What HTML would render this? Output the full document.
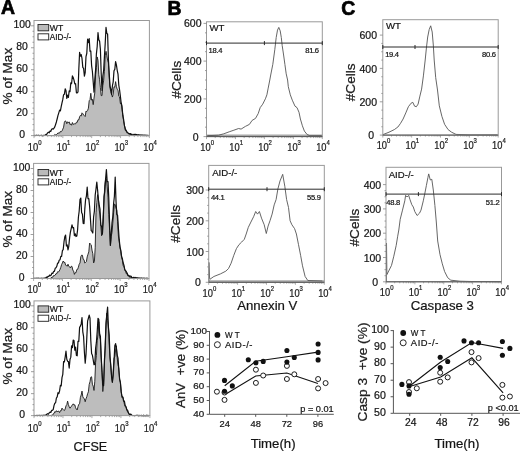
<!DOCTYPE html>
<html><head><meta charset="utf-8"><style>
html,body{margin:0;padding:0;background:#fff;}
svg{display:block;will-change:transform;}
text{font-family:"Liberation Sans", sans-serif;stroke:#151515;stroke-width:0.22px;}
</style></head><body>
<svg width="520" height="454" viewBox="0 0 520 454">
<rect width="520" height="454" fill="#fff"/>
<text x="0.9" y="14.2" font-size="19.4" text-anchor="start" font-weight="bold" fill="#000" style="stroke:#000;stroke-width:0.7px">A</text>
<text x="167.4" y="14.7" font-size="19.4" text-anchor="start" font-weight="bold" fill="#000" style="stroke:#000;stroke-width:0.7px">B</text>
<text x="341.2" y="14.7" font-size="19.4" text-anchor="start" font-weight="bold" fill="#000" style="stroke:#000;stroke-width:0.7px">C</text>
<polygon points="34,135.38 34.8,135.45 35.6,135.53 36.4,135.36 37.2,135.44 38,135.52 38.8,135.45 39.6,135.6 40.4,135.46 41.2,135.4 42,135.36 42.8,135.58 43.6,135.4 44.4,135.52 45.2,135.33 46,135.57 46.8,135.44 47.6,135.57 48.4,135.49 49.2,135.58 50,135.46 50.8,135.57 51.6,135.58 52.4,135.6 53.2,135.47 54,135.51 54.8,134.38 55.6,134.92 56.4,134.54 57.2,134.03 58,132.81 58.8,133.29 59.6,133.03 60.4,131.39 61.2,131.75 62,130.92 62.8,129.15 63.6,127.19 64.4,122.24 65.2,120.92 66,121.38 66.8,123.73 67.6,121.75 68.4,122.68 69.2,121.87 70,124.6 70.8,123.96 71.6,125.24 72.4,122.53 73.2,124.3 74,124.25 74.8,123.65 75.6,123.91 76.4,122.23 77.2,122.36 78,119.72 78.8,119.89 79.6,116.86 80.4,115.41 81.2,116.03 82,112.83 82.8,113.65 83.6,115.1 84.4,115.63 85.2,116.52 86,111.12 86.8,111.49 87.6,110.49 88.4,108.21 89.2,100.71 90,99.69 90.8,93.29 91.6,100.21 92.4,99.35 93.2,104.64 94,98.14 94.8,92.69 95.6,74.74 96.4,67.7 97.2,56.94 98,60.24 98.8,74.84 99.6,79.77 100.4,87.76 101.2,95.6 102,95.61 102.8,85.71 103.6,80.88 104.4,71.44 105.2,55.7 106,51.32 106.8,55.82 107.6,60.06 108.4,62.85 109.2,77.3 110,88.09 110.8,91.63 111.6,94.28 112.4,97.06 113.2,94.25 114,86.71 114.8,87.19 115.6,81.64 116.4,86.38 117.2,89.35 118,90.14 118.8,96.28 119.6,96.97 120.4,103.64 121.2,102.88 122,109.53 122.8,114.62 123.6,121.17 124.4,124.7 125.2,130.26 126,130.3 126.8,132.78 127.6,132.53 128.4,133.42 129.2,133.86 130,134.76 130.8,134.15 131.6,135.03 132.4,134.27 133.2,135.08 134,135.22 134.8,134.47 135.6,134.98 136.4,135.15 137.2,135.28 138,135.04 138.8,135.18 139.6,135.28 140.4,135.27 141.2,135.18 142,135.28 142.8,135.34 143.6,135.32 144.4,135.2 145.2,135.21 146,135.45 146.8,135.41 147.6,135.51 148.4,135.38 148.4,135.6 34,135.6" fill="#bdbdbd" stroke="none"/>
<polyline points="34,135.38 34.8,135.45 35.6,135.53 36.4,135.36 37.2,135.44 38,135.52 38.8,135.45 39.6,135.6 40.4,135.46 41.2,135.4 42,135.36 42.8,135.58 43.6,135.4 44.4,135.52 45.2,135.33 46,135.57 46.8,135.44 47.6,135.57 48.4,135.49 49.2,135.58 50,135.46 50.8,135.57 51.6,135.58 52.4,135.6 53.2,135.47 54,135.51 54.8,134.38 55.6,134.92 56.4,134.54 57.2,134.03 58,132.81 58.8,133.29 59.6,133.03 60.4,131.39 61.2,131.75 62,130.92 62.8,129.15 63.6,127.19 64.4,122.24 65.2,120.92 66,121.38 66.8,123.73 67.6,121.75 68.4,122.68 69.2,121.87 70,124.6 70.8,123.96 71.6,125.24 72.4,122.53 73.2,124.3 74,124.25 74.8,123.65 75.6,123.91 76.4,122.23 77.2,122.36 78,119.72 78.8,119.89 79.6,116.86 80.4,115.41 81.2,116.03 82,112.83 82.8,113.65 83.6,115.1 84.4,115.63 85.2,116.52 86,111.12 86.8,111.49 87.6,110.49 88.4,108.21 89.2,100.71 90,99.69 90.8,93.29 91.6,100.21 92.4,99.35 93.2,104.64 94,98.14 94.8,92.69 95.6,74.74 96.4,67.7 97.2,56.94 98,60.24 98.8,74.84 99.6,79.77 100.4,87.76 101.2,95.6 102,95.61 102.8,85.71 103.6,80.88 104.4,71.44 105.2,55.7 106,51.32 106.8,55.82 107.6,60.06 108.4,62.85 109.2,77.3 110,88.09 110.8,91.63 111.6,94.28 112.4,97.06 113.2,94.25 114,86.71 114.8,87.19 115.6,81.64 116.4,86.38 117.2,89.35 118,90.14 118.8,96.28 119.6,96.97 120.4,103.64 121.2,102.88 122,109.53 122.8,114.62 123.6,121.17 124.4,124.7 125.2,130.26 126,130.3 126.8,132.78 127.6,132.53 128.4,133.42 129.2,133.86 130,134.76 130.8,134.15 131.6,135.03 132.4,134.27 133.2,135.08 134,135.22 134.8,134.47 135.6,134.98 136.4,135.15 137.2,135.28 138,135.04 138.8,135.18 139.6,135.28 140.4,135.27 141.2,135.18 142,135.28 142.8,135.34 143.6,135.32 144.4,135.2 145.2,135.21 146,135.45 146.8,135.41 147.6,135.51 148.4,135.38" fill="none" stroke="#1a1a1a" stroke-width="0.9" stroke-linejoin="round"/>
<polyline points="34,135.41 34.8,135.6 35.6,135.47 36.4,135.41 37.2,135.5 38,135.43 38.8,135.4 39.6,135.53 40.4,135.5 41.2,135.44 42,135.6 42.8,135.47 43.6,135.55 44.4,135.28 45.2,135.16 46,134.3 46.8,134.33 47.6,132.88 48.4,132.17 49.2,132.77 50,131.09 50.8,131.41 51.6,129.24 52.4,128.73 53.2,129.17 54,128.18 54.8,126.91 55.6,124.46 56.4,121.96 57.2,118.77 58,115.44 58.8,112.82 59.6,110.07 60.4,110.91 61.2,106.71 62,102.88 62.8,99.38 63.6,94.66 64.4,94.15 65.2,88.79 66,90.79 66.8,98.45 67.6,95.08 68.4,97.44 69.2,90.84 70,91.64 70.8,82.74 71.6,83.54 72.4,75.91 73.2,77.44 74,80.14 74.8,83.91 75.6,83.71 76.4,92.81 77.2,93.01 78,91.9 78.8,69.82 79.6,52.42 80.4,56.26 81.2,54.59 82,58.48 82.8,67.39 83.6,68.37 84.4,76.24 85.2,72.52 86,56.56 86.8,53.24 87.6,39.08 88.4,42.56 89.2,38.6 90,51.3 90.8,51.05 91.6,65.61 92.4,71.48 93.2,82.01 94,92.25 94.8,79.64 95.6,69.73 96.4,53.81 97.2,46.47 98,32.59 98.8,39.82 99.6,41.12 100.4,49.35 101.2,73.6 102,90.38 102.8,76.31 103.6,70.95 104.4,57.15 105.2,43.81 106,27.44 106.8,33.37 107.6,34.04 108.4,59.23 109.2,72.74 110,86.11 110.8,89.15 111.6,94.38 112.4,86 113.2,81.86 114,70.77 114.8,69.37 115.6,61.61 116.4,64.87 117.2,70.26 118,74.05 118.8,85.23 119.6,90.17 120.4,96.39 121.2,103.22 122,105.97 122.8,115.43 123.6,119.28 124.4,125.57 125.2,128.18 126,130.48 126.8,131.56 127.6,132.38 128.4,133.56 129.2,133.6 130,133.8 130.8,133.68 131.6,134.9 132.4,135 133.2,135.24 134,134.26 134.8,135.01 135.6,134.33 136.4,134.49 137.2,135.16 138,134.76 138.8,134.78 139.6,135.21 140.4,135.18 141.2,135.14 142,135.25 142.8,135.11 143.6,135.31 144.4,135.25 145.2,135.37 146,135.3 146.8,135.36 147.6,135.31 148.4,135.6" fill="none" stroke="#111" stroke-width="1.2" stroke-linejoin="round"/>
<rect x="34" y="20.5" width="115.4" height="115.1" fill="none" stroke="#999" stroke-width="1"/>
<path d="M34 135.6v2.5M42.68 135.6v1.5M47.76 135.6v1.5M51.37 135.6v1.5M54.17 135.6v1.5M56.45 135.6v1.5M58.38 135.6v1.5M60.05 135.6v1.5M61.53 135.6v1.5M62.85 135.6v2.5M71.53 135.6v1.5M76.61 135.6v1.5M80.22 135.6v1.5M83.02 135.6v1.5M85.3 135.6v1.5M87.23 135.6v1.5M88.9 135.6v1.5M90.38 135.6v1.5M91.7 135.6v2.5M100.38 135.6v1.5M105.46 135.6v1.5M109.07 135.6v1.5M111.87 135.6v1.5M114.15 135.6v1.5M116.08 135.6v1.5M117.75 135.6v1.5M119.23 135.6v1.5M120.55 135.6v2.5M129.23 135.6v1.5M134.31 135.6v1.5M137.92 135.6v1.5M140.72 135.6v1.5M143 135.6v1.5M144.93 135.6v1.5M146.6 135.6v1.5M148.08 135.6v1.5M149.4 135.6v2.5" stroke="#999" stroke-width="0.8" fill="none"/>
<path d="M34 25.8h-3M34 47.76h-3M34 69.72h-3M34 91.68h-3M34 113.64h-3M34 135.6h-3M34 31.29h-1.5M34 36.78h-1.5M34 42.27h-1.5M34 53.25h-1.5M34 58.74h-1.5M34 64.23h-1.5M34 75.21h-1.5M34 80.7h-1.5M34 86.19h-1.5M34 97.17h-1.5M34 102.66h-1.5M34 108.15h-1.5M34 119.13h-1.5M34 124.62h-1.5M34 130.11h-1.5" stroke="#888" stroke-width="0.8" fill="none"/>
<text transform="translate(34.7 150.9) scale(0.88 1)" font-size="10.6" text-anchor="middle" fill="#222">10<tspan font-size="6.8" dy="-6.0">0</tspan></text>
<text transform="translate(63.55 150.9) scale(0.88 1)" font-size="10.6" text-anchor="middle" fill="#222">10<tspan font-size="6.8" dy="-6.0">1</tspan></text>
<text transform="translate(92.4 150.9) scale(0.88 1)" font-size="10.6" text-anchor="middle" fill="#222">10<tspan font-size="6.8" dy="-6.0">2</tspan></text>
<text transform="translate(121.25 150.9) scale(0.88 1)" font-size="10.6" text-anchor="middle" fill="#222">10<tspan font-size="6.8" dy="-6.0">3</tspan></text>
<text transform="translate(150.1 150.9) scale(0.88 1)" font-size="10.6" text-anchor="middle" fill="#222">10<tspan font-size="6.8" dy="-6.0">4</tspan></text>
<text x="22.1" y="28.4" font-size="10.4" text-anchor="middle" font-weight="normal" fill="#151515" >100</text>
<text x="22.1" y="50.36" font-size="10.4" text-anchor="middle" font-weight="normal" fill="#151515" >80</text>
<text x="22.1" y="72.32" font-size="10.4" text-anchor="middle" font-weight="normal" fill="#151515" >60</text>
<text x="22.1" y="94.28" font-size="10.4" text-anchor="middle" font-weight="normal" fill="#151515" >40</text>
<text x="22.1" y="116.24" font-size="10.4" text-anchor="middle" font-weight="normal" fill="#151515" >20</text>
<text x="22.1" y="138.2" font-size="10.4" text-anchor="middle" font-weight="normal" fill="#151515" >0</text>
<rect x="38.0" y="24.5" width="10.7" height="6.3" fill="#bababa" stroke="#2a2a2a" stroke-width="0.95"/>
<rect x="38.0" y="33.8" width="10.7" height="6.1" fill="#fff" stroke="#2a2a2a" stroke-width="0.95"/>
<text x="49.8" y="30.6" font-size="8.6" text-anchor="start" font-weight="normal" fill="#151515" >WT</text>
<text x="49.8" y="39.7" font-size="8.2" text-anchor="start" font-weight="normal" fill="#151515" >AID-/-</text>
<text x="0" y="0" font-size="13.6" text-anchor="middle" fill="#222" transform="translate(12.1 76.1) rotate(-90)">% of Max</text>
<polygon points="33.6,278.33 34.4,278.49 35.2,278.34 36,278.46 36.8,278.38 37.6,278.44 38.4,278.24 39.2,278.5 40,278.26 40.8,278.45 41.6,278.31 42.4,278.47 43.2,278.36 44,278.5 44.8,278.34 45.6,278.44 46.4,278.29 47.2,278.46 48,278.39 48.8,278.41 49.6,278.5 50.4,278.38 51.2,277.98 52,276.87 52.8,277.25 53.6,275.55 54.4,275.58 55.2,275.08 56,273.62 56.8,273.74 57.6,271.74 58.4,272.03 59.2,271.07 60,269.46 60.8,267.33 61.6,264.57 62.4,262.98 63.2,261.01 64,262.59 64.8,262.24 65.6,265.18 66.4,265.5 67.2,266.22 68,264.21 68.8,266.33 69.6,266.77 70.4,267.92 71.2,266.25 72,266.41 72.8,270.1 73.6,271.07 74.4,274.37 75.2,272.65 76,272.71 76.8,269.56 77.6,269.39 78.4,267.18 79.2,264.16 80,263.05 80.8,256.78 81.6,255.16 82.4,255.22 83.2,259.24 84,259.69 84.8,263.09 85.6,262.43 86.4,261.63 87.2,256.9 88,254.23 88.8,251.88 89.6,243.1 90.4,244.07 91.2,244.81 92,250.16 92.8,253.71 93.6,262.93 94.4,261.29 95.2,247.77 96,212.7 96.8,202.64 97.6,194.61 98.4,198.79 99.2,209.97 100,215.01 100.8,225.38 101.6,235.81 102.4,228.46 103.2,214.72 104,199.98 104.8,184.79 105.6,179.33 106.4,178.67 107.2,186.84 108,197.2 108.8,214.52 109.6,230.31 110.4,245.67 111.2,236.42 112,232.56 112.8,223.07 113.6,212.82 114.4,203.83 115.2,204.78 116,208.11 116.8,210.03 117.6,221.67 118.4,236 119.2,241.53 120,247.83 120.8,251.31 121.6,257.57 122.4,260.14 123.2,265.86 124,266.4 124.8,270.01 125.6,271.26 126.4,273.87 127.2,273.66 128,275.83 128.8,275.62 129.6,277.17 130.4,277.57 131.2,276.94 132,278.07 132.8,278.42 133.6,278.05 134.4,277.4 135.2,277.83 136,278.07 136.8,277.99 137.6,277.97 138.4,278.18 139.2,278.04 140,278.05 140.8,278.18 141.6,278.01 142.4,278.11 143.2,278.29 144,278.17 144.8,278.19 145.6,278.46 146.4,278.17 147.2,278.37 148,278.29 148,278.5 33.6,278.5" fill="#bdbdbd" stroke="none"/>
<polyline points="33.6,278.33 34.4,278.49 35.2,278.34 36,278.46 36.8,278.38 37.6,278.44 38.4,278.24 39.2,278.5 40,278.26 40.8,278.45 41.6,278.31 42.4,278.47 43.2,278.36 44,278.5 44.8,278.34 45.6,278.44 46.4,278.29 47.2,278.46 48,278.39 48.8,278.41 49.6,278.5 50.4,278.38 51.2,277.98 52,276.87 52.8,277.25 53.6,275.55 54.4,275.58 55.2,275.08 56,273.62 56.8,273.74 57.6,271.74 58.4,272.03 59.2,271.07 60,269.46 60.8,267.33 61.6,264.57 62.4,262.98 63.2,261.01 64,262.59 64.8,262.24 65.6,265.18 66.4,265.5 67.2,266.22 68,264.21 68.8,266.33 69.6,266.77 70.4,267.92 71.2,266.25 72,266.41 72.8,270.1 73.6,271.07 74.4,274.37 75.2,272.65 76,272.71 76.8,269.56 77.6,269.39 78.4,267.18 79.2,264.16 80,263.05 80.8,256.78 81.6,255.16 82.4,255.22 83.2,259.24 84,259.69 84.8,263.09 85.6,262.43 86.4,261.63 87.2,256.9 88,254.23 88.8,251.88 89.6,243.1 90.4,244.07 91.2,244.81 92,250.16 92.8,253.71 93.6,262.93 94.4,261.29 95.2,247.77 96,212.7 96.8,202.64 97.6,194.61 98.4,198.79 99.2,209.97 100,215.01 100.8,225.38 101.6,235.81 102.4,228.46 103.2,214.72 104,199.98 104.8,184.79 105.6,179.33 106.4,178.67 107.2,186.84 108,197.2 108.8,214.52 109.6,230.31 110.4,245.67 111.2,236.42 112,232.56 112.8,223.07 113.6,212.82 114.4,203.83 115.2,204.78 116,208.11 116.8,210.03 117.6,221.67 118.4,236 119.2,241.53 120,247.83 120.8,251.31 121.6,257.57 122.4,260.14 123.2,265.86 124,266.4 124.8,270.01 125.6,271.26 126.4,273.87 127.2,273.66 128,275.83 128.8,275.62 129.6,277.17 130.4,277.57 131.2,276.94 132,278.07 132.8,278.42 133.6,278.05 134.4,277.4 135.2,277.83 136,278.07 136.8,277.99 137.6,277.97 138.4,278.18 139.2,278.04 140,278.05 140.8,278.18 141.6,278.01 142.4,278.11 143.2,278.29 144,278.17 144.8,278.19 145.6,278.46 146.4,278.17 147.2,278.37 148,278.29" fill="none" stroke="#1a1a1a" stroke-width="0.9" stroke-linejoin="round"/>
<polyline points="33.6,278.3 34.4,278.42 35.2,278.4 36,278.48 36.8,278.22 37.6,278.27 38.4,278.31 39.2,278.5 40,278.23 40.8,278.49 41.6,278.31 42.4,278.46 43.2,278.34 44,278.43 44.8,278.05 45.6,278.19 46.4,277.05 47.2,277.35 48,276.44 48.8,276.44 49.6,275.11 50.4,275.69 51.2,274.96 52,273.11 52.8,273.46 53.6,271.46 54.4,271.43 55.2,268.35 56,267.83 56.8,266.33 57.6,263.1 58.4,262.98 59.2,260.2 60,259.82 60.8,256.34 61.6,256.39 62.4,250.73 63.2,249.65 64,241.95 64.8,236.72 65.6,235.13 66.4,245.84 67.2,244.9 68,249.98 68.8,246.03 69.6,237.88 70.4,232.11 71.2,228.63 72,224.88 72.8,227.93 73.6,227.64 74.4,235.57 75.2,233.76 76,236.53 76.8,236.09 77.6,229.73 78.4,217.26 79.2,210.97 80,199.47 80.8,198.1 81.6,212.41 82.4,214.2 83.2,223.52 84,223.68 84.8,209.08 85.6,199.43 86.4,196.23 87.2,187.11 88,198.72 88.8,198.63 89.6,206.28 90.4,218.41 91.2,230.59 92,231.37 92.8,233 93.6,217.13 94.4,211.19 95.2,195.01 96,188.98 96.8,182.01 97.6,190.16 98.4,199.47 99.2,205.23 100,209.08 100.8,225.31 101.6,226.2 102.4,234.26 103.2,222.15 104,196.55 104.8,191.63 105.6,178.77 106.4,169.61 107.2,181.75 108,181.64 108.8,198.44 109.6,223.42 110.4,245.21 111.2,234.44 112,222.82 112.8,216.76 113.6,203.59 114.4,196.21 115.2,177.07 116,200.94 116.8,214.46 117.6,215.38 118.4,228.17 119.2,239.44 120,246.77 120.8,250.38 121.6,256.53 122.4,258.82 123.2,263 124,265.42 124.8,269.75 125.6,270.63 126.4,271.88 127.2,273.24 128,275.68 128.8,275.34 129.6,276.66 130.4,276.01 131.2,276.34 132,277.95 132.8,277.78 133.6,277.3 134.4,278.26 135.2,277.42 136,277.94 136.8,277.89 137.6,278.18 138.4,278.05 139.2,278.38 140,278.3 140.8,278.42 141.6,278.34 142.4,278.5 143.2,278.41 144,278.41 144.8,278.48 145.6,278.37 146.4,278.5 147.2,278.34 148,278.5" fill="none" stroke="#111" stroke-width="1.2" stroke-linejoin="round"/>
<rect x="33.6" y="163.4" width="115.4" height="115.1" fill="none" stroke="#999" stroke-width="1"/>
<path d="M33.6 278.5v2.5M42.28 278.5v1.5M47.36 278.5v1.5M50.97 278.5v1.5M53.77 278.5v1.5M56.05 278.5v1.5M57.98 278.5v1.5M59.65 278.5v1.5M61.13 278.5v1.5M62.45 278.5v2.5M71.13 278.5v1.5M76.21 278.5v1.5M79.82 278.5v1.5M82.62 278.5v1.5M84.9 278.5v1.5M86.83 278.5v1.5M88.5 278.5v1.5M89.98 278.5v1.5M91.3 278.5v2.5M99.98 278.5v1.5M105.06 278.5v1.5M108.67 278.5v1.5M111.47 278.5v1.5M113.75 278.5v1.5M115.68 278.5v1.5M117.35 278.5v1.5M118.83 278.5v1.5M120.15 278.5v2.5M128.83 278.5v1.5M133.91 278.5v1.5M137.52 278.5v1.5M140.32 278.5v1.5M142.6 278.5v1.5M144.53 278.5v1.5M146.2 278.5v1.5M147.68 278.5v1.5M149 278.5v2.5" stroke="#999" stroke-width="0.8" fill="none"/>
<path d="M33.6 168.5h-3M33.6 190.5h-3M33.6 212.5h-3M33.6 234.5h-3M33.6 256.5h-3M33.6 278.5h-3M33.6 174h-1.5M33.6 179.5h-1.5M33.6 185h-1.5M33.6 196h-1.5M33.6 201.5h-1.5M33.6 207h-1.5M33.6 218h-1.5M33.6 223.5h-1.5M33.6 229h-1.5M33.6 240h-1.5M33.6 245.5h-1.5M33.6 251h-1.5M33.6 262h-1.5M33.6 267.5h-1.5M33.6 273h-1.5" stroke="#888" stroke-width="0.8" fill="none"/>
<text transform="translate(34.3 292.6) scale(0.88 1)" font-size="10.6" text-anchor="middle" fill="#222">10<tspan font-size="6.8" dy="-6.0">0</tspan></text>
<text transform="translate(63.15 292.6) scale(0.88 1)" font-size="10.6" text-anchor="middle" fill="#222">10<tspan font-size="6.8" dy="-6.0">1</tspan></text>
<text transform="translate(92 292.6) scale(0.88 1)" font-size="10.6" text-anchor="middle" fill="#222">10<tspan font-size="6.8" dy="-6.0">2</tspan></text>
<text transform="translate(120.85 292.6) scale(0.88 1)" font-size="10.6" text-anchor="middle" fill="#222">10<tspan font-size="6.8" dy="-6.0">3</tspan></text>
<text transform="translate(149.7 292.6) scale(0.88 1)" font-size="10.6" text-anchor="middle" fill="#222">10<tspan font-size="6.8" dy="-6.0">4</tspan></text>
<text x="21.7" y="171.1" font-size="10.4" text-anchor="middle" font-weight="normal" fill="#151515" >100</text>
<text x="21.7" y="193.1" font-size="10.4" text-anchor="middle" font-weight="normal" fill="#151515" >80</text>
<text x="21.7" y="215.1" font-size="10.4" text-anchor="middle" font-weight="normal" fill="#151515" >60</text>
<text x="21.7" y="237.1" font-size="10.4" text-anchor="middle" font-weight="normal" fill="#151515" >40</text>
<text x="21.7" y="259.1" font-size="10.4" text-anchor="middle" font-weight="normal" fill="#151515" >20</text>
<text x="21.7" y="281.1" font-size="10.4" text-anchor="middle" font-weight="normal" fill="#151515" >0</text>
<rect x="38.0" y="169.5" width="10.7" height="6.3" fill="#bababa" stroke="#2a2a2a" stroke-width="0.95"/>
<rect x="38.0" y="178.8" width="10.7" height="6.1" fill="#fff" stroke="#2a2a2a" stroke-width="0.95"/>
<text x="49.8" y="175.6" font-size="8.6" text-anchor="start" font-weight="normal" fill="#151515" >WT</text>
<text x="49.8" y="184.7" font-size="8.2" text-anchor="start" font-weight="normal" fill="#151515" >AID-/-</text>
<text x="0" y="0" font-size="13.6" text-anchor="middle" fill="#222" transform="translate(12.1 219.2) rotate(-90)">% of Max</text>
<polygon points="34,415.4 34.8,415.55 35.6,415.48 36.4,415.46 37.2,415.5 38,415.49 38.8,415.54 39.6,415.6 40.4,415.56 41.2,415.46 42,415.6 42.8,415.59 43.6,415.38 44.4,415.55 45.2,415.6 46,415.33 46.8,415.6 47.6,415.47 48.4,415.6 49.2,415.6 50,415.52 50.8,415.5 51.6,415.31 52.4,415.55 53.2,413.89 54,413.59 54.8,411.61 55.6,412.14 56.4,410.67 57.2,411.94 58,411.05 58.8,411.23 59.6,412.6 60.4,410.69 61.2,410.8 62,408.12 62.8,409.28 63.6,410.14 64.4,410.51 65.2,408.98 66,405.79 66.8,404.75 67.6,401.09 68.4,404.59 69.2,406.87 70,408.21 70.8,407.01 71.6,406.17 72.4,404.64 73.2,403.85 74,405.11 74.8,404.8 75.6,407.72 76.4,409.16 77.2,410.01 78,406.62 78.8,404.31 79.6,403.68 80.4,397.41 81.2,394.98 82,391.1 82.8,396.62 83.6,398.25 84.4,398.72 85.2,401.74 86,398.74 86.8,396.74 87.6,393.78 88.4,391.81 89.2,384.45 90,381.73 90.8,377.13 91.6,376.78 92.4,384.25 93.2,386.11 94,390.44 94.8,381.28 95.6,362.5 96.4,355.7 97.2,340.71 98,334.84 98.8,321.75 99.6,336.64 100.4,339.41 101.2,357.26 102,372.58 102.8,391.54 103.6,383.98 104.4,365.07 105.2,345.59 106,325.93 106.8,313.11 107.6,320.38 108.4,326.87 109.2,344.49 110,357.96 110.8,365.77 111.6,376.78 112.4,382.73 113.2,371.08 114,358.18 114.8,356.54 115.6,350.04 116.4,345.78 117.2,357.92 118,364.6 118.8,368.23 119.6,379.14 120.4,382.38 121.2,392.11 122,396.39 122.8,397.01 123.6,399.82 124.4,404.31 125.2,406.36 126,407.35 126.8,409.53 127.6,412.15 128.4,412.29 129.2,414.37 130,414.65 130.8,414.53 131.6,415.12 132.4,415.6 133.2,415.48 134,415.52 134.8,415.45 135.6,415.43 136.4,415.27 137.2,415.51 138,415.44 138.8,415.51 139.6,415.34 140.4,415.59 141.2,415.46 142,415.6 142.8,415.56 143.6,415.33 144.4,415.6 145.2,415.46 146,415.53 146.8,415.31 147.6,415.4 148.4,415.55 148.4,415.6 34,415.6" fill="#bdbdbd" stroke="none"/>
<polyline points="34,415.4 34.8,415.55 35.6,415.48 36.4,415.46 37.2,415.5 38,415.49 38.8,415.54 39.6,415.6 40.4,415.56 41.2,415.46 42,415.6 42.8,415.59 43.6,415.38 44.4,415.55 45.2,415.6 46,415.33 46.8,415.6 47.6,415.47 48.4,415.6 49.2,415.6 50,415.52 50.8,415.5 51.6,415.31 52.4,415.55 53.2,413.89 54,413.59 54.8,411.61 55.6,412.14 56.4,410.67 57.2,411.94 58,411.05 58.8,411.23 59.6,412.6 60.4,410.69 61.2,410.8 62,408.12 62.8,409.28 63.6,410.14 64.4,410.51 65.2,408.98 66,405.79 66.8,404.75 67.6,401.09 68.4,404.59 69.2,406.87 70,408.21 70.8,407.01 71.6,406.17 72.4,404.64 73.2,403.85 74,405.11 74.8,404.8 75.6,407.72 76.4,409.16 77.2,410.01 78,406.62 78.8,404.31 79.6,403.68 80.4,397.41 81.2,394.98 82,391.1 82.8,396.62 83.6,398.25 84.4,398.72 85.2,401.74 86,398.74 86.8,396.74 87.6,393.78 88.4,391.81 89.2,384.45 90,381.73 90.8,377.13 91.6,376.78 92.4,384.25 93.2,386.11 94,390.44 94.8,381.28 95.6,362.5 96.4,355.7 97.2,340.71 98,334.84 98.8,321.75 99.6,336.64 100.4,339.41 101.2,357.26 102,372.58 102.8,391.54 103.6,383.98 104.4,365.07 105.2,345.59 106,325.93 106.8,313.11 107.6,320.38 108.4,326.87 109.2,344.49 110,357.96 110.8,365.77 111.6,376.78 112.4,382.73 113.2,371.08 114,358.18 114.8,356.54 115.6,350.04 116.4,345.78 117.2,357.92 118,364.6 118.8,368.23 119.6,379.14 120.4,382.38 121.2,392.11 122,396.39 122.8,397.01 123.6,399.82 124.4,404.31 125.2,406.36 126,407.35 126.8,409.53 127.6,412.15 128.4,412.29 129.2,414.37 130,414.65 130.8,414.53 131.6,415.12 132.4,415.6 133.2,415.48 134,415.52 134.8,415.45 135.6,415.43 136.4,415.27 137.2,415.51 138,415.44 138.8,415.51 139.6,415.34 140.4,415.59 141.2,415.46 142,415.6 142.8,415.56 143.6,415.33 144.4,415.6 145.2,415.46 146,415.53 146.8,415.31 147.6,415.4 148.4,415.55" fill="none" stroke="#1a1a1a" stroke-width="0.9" stroke-linejoin="round"/>
<polyline points="34,415.41 34.8,415.58 35.6,415.51 36.4,415.47 37.2,415.6 38,415.38 38.8,415.53 39.6,415.39 40.4,415.57 41.2,415.38 42,415.52 42.8,415.41 43.6,415.36 44.4,415.28 45.2,415.06 46,415.08 46.8,414.2 47.6,413.64 48.4,414.23 49.2,412.83 50,412.11 50.8,412.42 51.6,410.41 52.4,410.31 53.2,409.59 54,405.61 54.8,403.23 55.6,402.74 56.4,398.01 57.2,396.92 58,392.73 58.8,393.59 59.6,390.94 60.4,385.29 61.2,385.91 62,377.57 62.8,374.28 63.6,361.53 64.4,361.95 65.2,356.96 66,351.19 66.8,359.28 67.6,361.2 68.4,361.64 69.2,368.04 70,359.51 70.8,357.13 71.6,345.75 72.4,347.72 73.2,340.14 74,340.46 74.8,350.27 75.6,347.07 76.4,355.44 77.2,355.77 78,341.4 78.8,341.49 79.6,327.37 80.4,326.17 81.2,323.94 82,317.62 82.8,331.84 83.6,336.66 84.4,352.27 85.2,363.16 86,354.47 86.8,337.86 87.6,321.16 88.4,318.24 89.2,315.1 90,318.11 90.8,340.5 91.6,353.58 92.4,355.21 93.2,359.97 94,364.68 94.8,364.36 95.6,348.34 96.4,342.43 97.2,331.8 98,318.23 98.8,319.44 99.6,333.47 100.4,336.4 101.2,356.66 102,370.99 102.8,384.77 103.6,385.68 104.4,360.44 105.2,347.1 106,323.06 106.8,314.63 107.6,307.13 108.4,327.08 109.2,334.72 110,356.51 110.8,365.58 111.6,376.85 112.4,381.9 113.2,375.32 114,361.78 114.8,345.83 115.6,343.66 116.4,348.69 117.2,355.04 118,358.11 118.8,369.44 119.6,379.06 120.4,382.52 121.2,391.41 122,397.21 122.8,396.91 123.6,401.15 124.4,401.2 125.2,405.59 126,406.69 126.8,409.74 127.6,410.28 128.4,412.74 129.2,414.16 130,414.6 130.8,414.14 131.6,415.21 132.4,415.39 133.2,415.52 134,415.54 134.8,415.52 135.6,415.52 136.4,415.51 137.2,415.45 138,415.41 138.8,415.57 139.6,415.6 140.4,415.5 141.2,415.41 142,415.6 142.8,415.54 143.6,415.38 144.4,415.58 145.2,415.6 146,415.6 146.8,415.42 147.6,415.54 148.4,415.47" fill="none" stroke="#111" stroke-width="1.2" stroke-linejoin="round"/>
<rect x="34" y="300.9" width="115.9" height="114.7" fill="none" stroke="#999" stroke-width="1"/>
<path d="M34 415.6v2.5M42.72 415.6v1.5M47.82 415.6v1.5M51.44 415.6v1.5M54.25 415.6v1.5M56.55 415.6v1.5M58.49 415.6v1.5M60.17 415.6v1.5M61.65 415.6v1.5M62.98 415.6v2.5M71.7 415.6v1.5M76.8 415.6v1.5M80.42 415.6v1.5M83.23 415.6v1.5M85.52 415.6v1.5M87.46 415.6v1.5M89.14 415.6v1.5M90.62 415.6v1.5M91.95 415.6v2.5M100.67 415.6v1.5M105.77 415.6v1.5M109.39 415.6v1.5M112.2 415.6v1.5M114.5 415.6v1.5M116.44 415.6v1.5M118.12 415.6v1.5M119.6 415.6v1.5M120.93 415.6v2.5M129.65 415.6v1.5M134.75 415.6v1.5M138.37 415.6v1.5M141.18 415.6v1.5M143.47 415.6v1.5M145.41 415.6v1.5M147.09 415.6v1.5M148.57 415.6v1.5M149.9 415.6v2.5" stroke="#999" stroke-width="0.8" fill="none"/>
<path d="M34 305.8h-3M34 327.76h-3M34 349.72h-3M34 371.68h-3M34 393.64h-3M34 415.6h-3M34 311.29h-1.5M34 316.78h-1.5M34 322.27h-1.5M34 333.25h-1.5M34 338.74h-1.5M34 344.23h-1.5M34 355.21h-1.5M34 360.7h-1.5M34 366.19h-1.5M34 377.17h-1.5M34 382.66h-1.5M34 388.15h-1.5M34 399.13h-1.5M34 404.62h-1.5M34 410.11h-1.5" stroke="#888" stroke-width="0.8" fill="none"/>
<text transform="translate(34.7 431.8) scale(0.88 1)" font-size="10.6" text-anchor="middle" fill="#222">10<tspan font-size="6.8" dy="-6.0">0</tspan></text>
<text transform="translate(63.68 431.8) scale(0.88 1)" font-size="10.6" text-anchor="middle" fill="#222">10<tspan font-size="6.8" dy="-6.0">1</tspan></text>
<text transform="translate(92.65 431.8) scale(0.88 1)" font-size="10.6" text-anchor="middle" fill="#222">10<tspan font-size="6.8" dy="-6.0">2</tspan></text>
<text transform="translate(121.63 431.8) scale(0.88 1)" font-size="10.6" text-anchor="middle" fill="#222">10<tspan font-size="6.8" dy="-6.0">3</tspan></text>
<text transform="translate(150.6 431.8) scale(0.88 1)" font-size="10.6" text-anchor="middle" fill="#222">10<tspan font-size="6.8" dy="-6.0">4</tspan></text>
<text x="22.1" y="308.4" font-size="10.4" text-anchor="middle" font-weight="normal" fill="#151515" >100</text>
<text x="22.1" y="330.36" font-size="10.4" text-anchor="middle" font-weight="normal" fill="#151515" >80</text>
<text x="22.1" y="352.32" font-size="10.4" text-anchor="middle" font-weight="normal" fill="#151515" >60</text>
<text x="22.1" y="374.28" font-size="10.4" text-anchor="middle" font-weight="normal" fill="#151515" >40</text>
<text x="22.1" y="396.24" font-size="10.4" text-anchor="middle" font-weight="normal" fill="#151515" >20</text>
<text x="22.1" y="418.2" font-size="10.4" text-anchor="middle" font-weight="normal" fill="#151515" >0</text>
<rect x="38.0" y="305.9" width="10.7" height="6.3" fill="#bababa" stroke="#2a2a2a" stroke-width="0.95"/>
<rect x="38.0" y="315.2" width="10.7" height="6.1" fill="#fff" stroke="#2a2a2a" stroke-width="0.95"/>
<text x="49.8" y="312" font-size="8.6" text-anchor="start" font-weight="normal" fill="#151515" >WT</text>
<text x="49.8" y="321.1" font-size="8.2" text-anchor="start" font-weight="normal" fill="#151515" >AID-/-</text>
<text x="0" y="0" font-size="13.6" text-anchor="middle" fill="#222" transform="translate(12.1 356.2) rotate(-90)">% of Max</text>
<text x="90.4" y="451" font-size="12.6" text-anchor="middle" font-weight="normal" fill="#151515" >CFSE</text>
<path d="M206.5 135.4H322.3" stroke="#a8a8a8" stroke-width="1.6" fill="none"/>
<polyline points="207.3,135.6 212,135.5 218.5,135.2 223.8,133.8 229.2,131.8 233.9,130.2 238.6,128.5 241.1,129.1 245.4,126.4 249.4,124.4 252.1,120.4 255.5,118.4 258.2,113.6 260.2,107.6 262.7,104.2 265.4,98.8 266.9,94.8 268.2,88.1 269.6,81 270.9,74 272.8,64.4 274.8,49.6 276.2,37.5 277.5,30.1 278.8,27.4 280.2,30.8 281.3,37.5 282.2,45.6 283.6,55 284.9,64.4 286.2,73.8 287.6,80 288.3,86.7 290.3,94.8 292.3,100.2 295,106.2 297,107.6 299,112.3 300.4,119 302.4,125.8 304.4,131.1 307.1,134.5 309.8,135.7 321.9,135.7" fill="none" stroke="#555" stroke-width="0.9" stroke-linejoin="round"/>
<rect x="206.5" y="21.8" width="115.8" height="114.8" fill="none" stroke="#999" stroke-width="1"/>
<path d="M206.5 136.6v2.5M215.21 136.6v1.5M220.31 136.6v1.5M223.93 136.6v1.5M226.74 136.6v1.5M229.03 136.6v1.5M230.97 136.6v1.5M232.64 136.6v1.5M234.13 136.6v1.5M235.45 136.6v2.5M244.16 136.6v1.5M249.26 136.6v1.5M252.88 136.6v1.5M255.69 136.6v1.5M257.98 136.6v1.5M259.92 136.6v1.5M261.59 136.6v1.5M263.08 136.6v1.5M264.4 136.6v2.5M273.11 136.6v1.5M278.21 136.6v1.5M281.83 136.6v1.5M284.64 136.6v1.5M286.93 136.6v1.5M288.87 136.6v1.5M290.54 136.6v1.5M292.03 136.6v1.5M293.35 136.6v2.5M302.06 136.6v1.5M307.16 136.6v1.5M310.78 136.6v1.5M313.59 136.6v1.5M315.88 136.6v1.5M317.82 136.6v1.5M319.49 136.6v1.5M320.98 136.6v1.5M322.3 136.6v2.5" stroke="#999" stroke-width="0.8" fill="none"/>
<path d="M206.5 23.4h-3M206.5 61.1h-3M206.5 98.9h-3M206.5 136.6h-3M206.5 32.83h-1.5M206.5 42.25h-1.5M206.5 51.67h-1.5M206.5 70.55h-1.5M206.5 80h-1.5M206.5 89.45h-1.5M206.5 108.33h-1.5M206.5 117.75h-1.5M206.5 127.17h-1.5" stroke="#888" stroke-width="0.8" fill="none"/>
<text transform="translate(207.2 150.8) scale(0.88 1)" font-size="10.6" text-anchor="middle" fill="#222">10<tspan font-size="6.8" dy="-6.0">0</tspan></text>
<text transform="translate(236.15 150.8) scale(0.88 1)" font-size="10.6" text-anchor="middle" fill="#222">10<tspan font-size="6.8" dy="-6.0">1</tspan></text>
<text transform="translate(265.1 150.8) scale(0.88 1)" font-size="10.6" text-anchor="middle" fill="#222">10<tspan font-size="6.8" dy="-6.0">2</tspan></text>
<text transform="translate(294.05 150.8) scale(0.88 1)" font-size="10.6" text-anchor="middle" fill="#222">10<tspan font-size="6.8" dy="-6.0">3</tspan></text>
<text transform="translate(323 150.8) scale(0.88 1)" font-size="10.6" text-anchor="middle" fill="#222">10<tspan font-size="6.8" dy="-6.0">4</tspan></text>
<text x="201.5" y="27.49" font-size="10.5" text-anchor="end" font-weight="normal" fill="#151515" >600</text>
<text x="201.5" y="65.2" font-size="10.5" text-anchor="end" font-weight="normal" fill="#151515" >400</text>
<text x="201.5" y="103" font-size="10.5" text-anchor="end" font-weight="normal" fill="#151515" >200</text>
<text x="198.5" y="140.69" font-size="10.5" text-anchor="end" font-weight="normal" fill="#151515" >0</text>
<path d="M206.5 136.6H322.3" stroke="#555" stroke-width="1" fill="none"/>
<path d="M206.5 43.1H322.3 M206.5 41.1v4 M264.4 41.1v4 M322.3 41.1v4" stroke="#2a2a2a" stroke-width="1" fill="none"/>
<text x="209.4" y="31.2" font-size="9.6" text-anchor="start" font-weight="normal" fill="#151515" >WT</text>
<text x="208.6" y="53.2" font-size="7.6" text-anchor="start" font-weight="normal" fill="#151515" letter-spacing="-0.3">18.4</text>
<text x="318.8" y="53.2" font-size="7.6" text-anchor="end" font-weight="normal" fill="#151515" letter-spacing="-0.3">81.6</text>
<text x="0" y="0" font-size="13.6" text-anchor="middle" fill="#222" transform="translate(180.6 79.7) rotate(-90)">#Cells</text>
<path d="M208.7 281.1H324.3" stroke="#a8a8a8" stroke-width="1.6" fill="none"/>
<polyline points="208.9,282.51 208.9,262.42 209.6,278.49 210,279.19 213.9,276.48 220.5,273.87 225.8,271.16 228.5,268.55 231.1,263.22 233.8,255.29 236.4,248.66 239,244.64 241.7,242.03 244.3,239.32 246.2,234 248.3,227.37 250.9,222.05 253.6,216.72 255.7,211.5 257.5,214.11 259.4,211.5 261.5,218.13 264.2,224.76 266.3,233.5 268.1,226.06 270,220.74 272.1,214.11 274.2,204.87 276.1,199.55 277.9,188.9 280,180.97 282.7,174.34 284.8,186.19 286.6,199.55 288.5,207.48 290.1,220.74 291.9,224.76 294.6,228.67 296.4,234 298.5,244.64 300.6,255.29 302.5,265.83 305.1,276.48 307.8,280.5 322.3,281" fill="none" stroke="#555" stroke-width="0.9" stroke-linejoin="round"/>
<rect x="208.7" y="165.4" width="115.6" height="116.9" fill="none" stroke="#999" stroke-width="1"/>
<path d="M208.7 282.3v2.5M217.4 282.3v1.5M222.49 282.3v1.5M226.1 282.3v1.5M228.9 282.3v1.5M231.19 282.3v1.5M233.12 282.3v1.5M234.8 282.3v1.5M236.28 282.3v1.5M237.6 282.3v2.5M246.3 282.3v1.5M251.39 282.3v1.5M255 282.3v1.5M257.8 282.3v1.5M260.09 282.3v1.5M262.02 282.3v1.5M263.7 282.3v1.5M265.18 282.3v1.5M266.5 282.3v2.5M275.2 282.3v1.5M280.29 282.3v1.5M283.9 282.3v1.5M286.7 282.3v1.5M288.99 282.3v1.5M290.92 282.3v1.5M292.6 282.3v1.5M294.08 282.3v1.5M295.4 282.3v2.5M304.1 282.3v1.5M309.19 282.3v1.5M312.8 282.3v1.5M315.6 282.3v1.5M317.89 282.3v1.5M319.82 282.3v1.5M321.5 282.3v1.5M322.98 282.3v1.5M324.3 282.3v2.5" stroke="#999" stroke-width="0.8" fill="none"/>
<path d="M208.7 190h-3M208.7 220.8h-3M208.7 251.5h-3M208.7 282.3h-3M208.7 197.7h-1.5M208.7 205.4h-1.5M208.7 213.1h-1.5M208.7 228.48h-1.5M208.7 236.15h-1.5M208.7 243.82h-1.5M208.7 259.2h-1.5M208.7 266.9h-1.5M208.7 274.6h-1.5" stroke="#888" stroke-width="0.8" fill="none"/>
<text transform="translate(209.4 297) scale(0.88 1)" font-size="10.6" text-anchor="middle" fill="#222">10<tspan font-size="6.8" dy="-6.0">0</tspan></text>
<text transform="translate(238.3 297) scale(0.88 1)" font-size="10.6" text-anchor="middle" fill="#222">10<tspan font-size="6.8" dy="-6.0">1</tspan></text>
<text transform="translate(267.2 297) scale(0.88 1)" font-size="10.6" text-anchor="middle" fill="#222">10<tspan font-size="6.8" dy="-6.0">2</tspan></text>
<text transform="translate(296.1 297) scale(0.88 1)" font-size="10.6" text-anchor="middle" fill="#222">10<tspan font-size="6.8" dy="-6.0">3</tspan></text>
<text transform="translate(325 297) scale(0.88 1)" font-size="10.6" text-anchor="middle" fill="#222">10<tspan font-size="6.8" dy="-6.0">4</tspan></text>
<text x="203.8" y="194.09" font-size="10.5" text-anchor="end" font-weight="normal" fill="#151515" >300</text>
<text x="203.8" y="224.9" font-size="10.5" text-anchor="end" font-weight="normal" fill="#151515" >200</text>
<text x="203.8" y="255.59" font-size="10.5" text-anchor="end" font-weight="normal" fill="#151515" >100</text>
<text x="200.8" y="286.4" font-size="10.5" text-anchor="end" font-weight="normal" fill="#151515" >0</text>
<path d="M208.7 282.3H324.3" stroke="#555" stroke-width="1" fill="none"/>
<path d="M208.7 189.2H324.3 M208.7 187.2v4 M267 187.2v4 M324.3 187.2v4" stroke="#2a2a2a" stroke-width="1" fill="none"/>
<text x="212.2" y="176" font-size="9.6" text-anchor="start" font-weight="normal" fill="#151515" >AID-/-</text>
<text x="210.9" y="199.7" font-size="7.6" text-anchor="start" font-weight="normal" fill="#151515" letter-spacing="-0.3">44.1</text>
<text x="320.6" y="199.7" font-size="7.6" text-anchor="end" font-weight="normal" fill="#151515" letter-spacing="-0.3">55.9</text>
<text x="0" y="0" font-size="13.6" text-anchor="middle" fill="#222" transform="translate(180.4 223.8) rotate(-90)">#Cells</text>
<text x="267.3" y="309.6" font-size="13.2" text-anchor="middle" font-weight="normal" fill="#151515" >Annexin V</text>
<polyline points="383,134.6 386,133.4 389,132.2 394.3,129.6 397.9,127 400.5,123.4 403.1,119 405.8,112.9 408.4,106.7 411.1,103.2 412.8,102.3 414.6,106.2 416.4,106.7 418.1,104.1 419.9,96.1 421.6,89.1 423.4,75.9 425.2,60 426.4,48 427.7,37 429.2,29.5 430.7,25.8 432.2,32 433.3,45 434.2,60 435.7,77.6 437.5,90 439.3,105.8 441.9,116.4 444.6,124.3 448.1,129.6 451.6,132.2 456,134.4 470,134.9 497.5,134.9" fill="none" stroke="#555" stroke-width="0.9" stroke-linejoin="round"/>
<rect x="382.8" y="19.7" width="115.4" height="115.4" fill="none" stroke="#999" stroke-width="1"/>
<path d="M382.8 135.1v2.5M391.48 135.1v1.5M396.56 135.1v1.5M400.17 135.1v1.5M402.97 135.1v1.5M405.25 135.1v1.5M407.18 135.1v1.5M408.85 135.1v1.5M410.33 135.1v1.5M411.65 135.1v2.5M420.33 135.1v1.5M425.41 135.1v1.5M429.02 135.1v1.5M431.82 135.1v1.5M434.1 135.1v1.5M436.03 135.1v1.5M437.7 135.1v1.5M439.18 135.1v1.5M440.5 135.1v2.5M449.18 135.1v1.5M454.26 135.1v1.5M457.87 135.1v1.5M460.67 135.1v1.5M462.95 135.1v1.5M464.88 135.1v1.5M466.55 135.1v1.5M468.03 135.1v1.5M469.35 135.1v2.5M478.03 135.1v1.5M483.11 135.1v1.5M486.72 135.1v1.5M489.52 135.1v1.5M491.8 135.1v1.5M493.73 135.1v1.5M495.4 135.1v1.5M496.88 135.1v1.5M498.2 135.1v2.5" stroke="#999" stroke-width="0.8" fill="none"/>
<path d="M382.8 35.1h-3M382.8 68.4h-3M382.8 101.8h-3M382.8 135.1h-3M382.8 43.43h-1.5M382.8 51.75h-1.5M382.8 60.08h-1.5M382.8 76.75h-1.5M382.8 85.1h-1.5M382.8 93.45h-1.5M382.8 110.12h-1.5M382.8 118.45h-1.5M382.8 126.77h-1.5" stroke="#888" stroke-width="0.8" fill="none"/>
<text transform="translate(383.5 148.9) scale(0.88 1)" font-size="10.6" text-anchor="middle" fill="#222">10<tspan font-size="6.8" dy="-6.0">0</tspan></text>
<text transform="translate(412.35 148.9) scale(0.88 1)" font-size="10.6" text-anchor="middle" fill="#222">10<tspan font-size="6.8" dy="-6.0">1</tspan></text>
<text transform="translate(441.2 148.9) scale(0.88 1)" font-size="10.6" text-anchor="middle" fill="#222">10<tspan font-size="6.8" dy="-6.0">2</tspan></text>
<text transform="translate(470.05 148.9) scale(0.88 1)" font-size="10.6" text-anchor="middle" fill="#222">10<tspan font-size="6.8" dy="-6.0">3</tspan></text>
<text transform="translate(498.9 148.9) scale(0.88 1)" font-size="10.6" text-anchor="middle" fill="#222">10<tspan font-size="6.8" dy="-6.0">4</tspan></text>
<text x="377" y="39.2" font-size="10.5" text-anchor="end" font-weight="normal" fill="#151515" >600</text>
<text x="377" y="72.5" font-size="10.5" text-anchor="end" font-weight="normal" fill="#151515" >400</text>
<text x="377" y="105.89" font-size="10.5" text-anchor="end" font-weight="normal" fill="#151515" >200</text>
<text x="374" y="139.19" font-size="10.5" text-anchor="end" font-weight="normal" fill="#151515" >0</text>
<path d="M382.8 135.1H498.2" stroke="#555" stroke-width="1" fill="none"/>
<path d="M382.8 47H498.2 M382.8 45v4 M415 45v4 M498.2 45v4" stroke="#2a2a2a" stroke-width="1" fill="none"/>
<text x="385.9" y="29.3" font-size="9.6" text-anchor="start" font-weight="normal" fill="#151515" >WT</text>
<text x="385.2" y="56.9" font-size="7.6" text-anchor="start" font-weight="normal" fill="#151515" letter-spacing="-0.3">19.4</text>
<text x="495.7" y="56.9" font-size="7.6" text-anchor="end" font-weight="normal" fill="#151515" letter-spacing="-0.3">80.6</text>
<text x="0" y="0" font-size="13.6" text-anchor="middle" fill="#222" transform="translate(355.2 82.3) rotate(-90)">#Cells</text>
<polyline points="386.5,281.3 386.5,243 386.9,274.6 389.2,270 391.5,265.4 393.8,256.2 396.2,245.4 397.7,236.2 398.8,230 400.2,219.3 402.5,210.1 404.8,200.8 405.6,195.4 407.1,197 408.7,195.4 409.9,199.3 411.8,204.7 413.3,207 414.8,211.6 417.1,215.5 419.5,213.2 421,210.1 423.3,200.8 424.9,193.1 426.4,185.4 427.9,177.7 428.7,173.9 430.3,180 431.8,179.3 433.3,190 434.9,205.5 436.3,222 437.7,241 440,254.6 442.3,263.8 444.6,271.5 447.7,277.7 450.8,280.2 460,281.2 475,281.6 501,281.6" fill="none" stroke="#555" stroke-width="0.9" stroke-linejoin="round"/>
<rect x="386" y="167.3" width="115.5" height="114.5" fill="none" stroke="#999" stroke-width="1"/>
<path d="M386 281.8v2.5M394.69 281.8v1.5M399.78 281.8v1.5M403.38 281.8v1.5M406.18 281.8v1.5M408.47 281.8v1.5M410.4 281.8v1.5M412.08 281.8v1.5M413.55 281.8v1.5M414.88 281.8v2.5M423.57 281.8v1.5M428.65 281.8v1.5M432.26 281.8v1.5M435.06 281.8v1.5M437.34 281.8v1.5M439.28 281.8v1.5M440.95 281.8v1.5M442.43 281.8v1.5M443.75 281.8v2.5M452.44 281.8v1.5M457.53 281.8v1.5M461.13 281.8v1.5M463.93 281.8v1.5M466.22 281.8v1.5M468.15 281.8v1.5M469.83 281.8v1.5M471.3 281.8v1.5M472.62 281.8v2.5M481.32 281.8v1.5M486.4 281.8v1.5M490.01 281.8v1.5M492.81 281.8v1.5M495.09 281.8v1.5M497.03 281.8v1.5M498.7 281.8v1.5M500.18 281.8v1.5M501.5 281.8v2.5" stroke="#999" stroke-width="0.8" fill="none"/>
<path d="M386 184.6h-3M386 208.9h-3M386 233.2h-3M386 257.5h-3M386 281.8h-3M386 190.68h-1.5M386 196.75h-1.5M386 202.82h-1.5M386 214.97h-1.5M386 221.05h-1.5M386 227.12h-1.5M386 239.27h-1.5M386 245.35h-1.5M386 251.43h-1.5M386 263.57h-1.5M386 269.65h-1.5M386 275.73h-1.5" stroke="#888" stroke-width="0.8" fill="none"/>
<text transform="translate(386.7 296) scale(0.88 1)" font-size="10.6" text-anchor="middle" fill="#222">10<tspan font-size="6.8" dy="-6.0">0</tspan></text>
<text transform="translate(415.57 296) scale(0.88 1)" font-size="10.6" text-anchor="middle" fill="#222">10<tspan font-size="6.8" dy="-6.0">1</tspan></text>
<text transform="translate(444.45 296) scale(0.88 1)" font-size="10.6" text-anchor="middle" fill="#222">10<tspan font-size="6.8" dy="-6.0">2</tspan></text>
<text transform="translate(473.32 296) scale(0.88 1)" font-size="10.6" text-anchor="middle" fill="#222">10<tspan font-size="6.8" dy="-6.0">3</tspan></text>
<text transform="translate(502.2 296) scale(0.88 1)" font-size="10.6" text-anchor="middle" fill="#222">10<tspan font-size="6.8" dy="-6.0">4</tspan></text>
<text x="381.2" y="188.69" font-size="10.5" text-anchor="end" font-weight="normal" fill="#151515" >400</text>
<text x="381.2" y="213" font-size="10.5" text-anchor="end" font-weight="normal" fill="#151515" >300</text>
<text x="381.2" y="237.29" font-size="10.5" text-anchor="end" font-weight="normal" fill="#151515" >200</text>
<text x="381.2" y="261.6" font-size="10.5" text-anchor="end" font-weight="normal" fill="#151515" >100</text>
<text x="378.2" y="285.9" font-size="10.5" text-anchor="end" font-weight="normal" fill="#151515" >0</text>
<path d="M386 281.8H501.5" stroke="#555" stroke-width="1" fill="none"/>
<path d="M386 194.1H501.5 M386 192.1v4 M418.4 192.1v4 M501.5 192.1v4" stroke="#2a2a2a" stroke-width="1" fill="none"/>
<text x="388.7" y="178.3" font-size="9.6" text-anchor="start" font-weight="normal" fill="#151515" >AID-/-</text>
<text x="386.3" y="204.7" font-size="7.6" text-anchor="start" font-weight="normal" fill="#151515" letter-spacing="-0.3">48.8</text>
<text x="499.4" y="204.7" font-size="7.6" text-anchor="end" font-weight="normal" fill="#151515" letter-spacing="-0.3">51.2</text>
<text x="0" y="0" font-size="13.6" text-anchor="middle" fill="#222" transform="translate(359.2 227.6) rotate(-90)">#Cells</text>
<text x="442.3" y="310.4" font-size="13.2" text-anchor="middle" font-weight="normal" fill="#151515" >Caspase 3</text>
<path d="M209.5 331V414.3H333.8" stroke="#555" stroke-width="1" fill="none"/>
<path d="M209.5 331.5h-2.8M209.5 345.3h-2.8M209.5 359.1h-2.8M209.5 372.9h-2.8M209.5 386.7h-2.8M209.5 400.5h-2.8M209.5 414.3h-2.8M224.7 414.3v2.5M255.7 414.3v2.5M286.8 414.3v2.5M317.9 414.3v2.5" stroke="#555" stroke-width="1" fill="none"/>
<text x="198.7" y="333.9" font-size="9.8" text-anchor="middle" font-weight="normal" fill="#151515" >100</text>
<text x="198.7" y="347.7" font-size="9.8" text-anchor="middle" font-weight="normal" fill="#151515" >90</text>
<text x="198.7" y="361.5" font-size="9.8" text-anchor="middle" font-weight="normal" fill="#151515" >80</text>
<text x="198.7" y="375.3" font-size="9.8" text-anchor="middle" font-weight="normal" fill="#151515" >70</text>
<text x="198.7" y="389.1" font-size="9.8" text-anchor="middle" font-weight="normal" fill="#151515" >60</text>
<text x="198.7" y="402.9" font-size="9.8" text-anchor="middle" font-weight="normal" fill="#151515" >50</text>
<text x="198.7" y="416.7" font-size="9.8" text-anchor="middle" font-weight="normal" fill="#151515" >40</text>
<text x="224.7" y="426.6" font-size="9.3" text-anchor="middle" font-weight="normal" fill="#151515" >24</text>
<text x="255.7" y="426.6" font-size="9.3" text-anchor="middle" font-weight="normal" fill="#151515" >48</text>
<text x="286.8" y="426.6" font-size="9.3" text-anchor="middle" font-weight="normal" fill="#151515" >72</text>
<text x="317.9" y="426.6" font-size="9.3" text-anchor="middle" font-weight="normal" fill="#151515" >96</text>
<text x="273.1" y="447.6" font-size="13.2" text-anchor="middle" font-weight="normal" fill="#151515" >Time(h)</text>
<polyline points="224.7,385.8 255.7,361.3 286.8,356.7 317.9,352.1" fill="none" stroke="#111" stroke-width="1.1"/>
<polyline points="224.7,394.7 255.7,376 286.8,373 317.9,383.5" fill="none" stroke="#111" stroke-width="1.1"/>
<circle cx="216.9" cy="391.7" r="2.5" fill="#fff" stroke="#111" stroke-width="0.95"/>
<circle cx="224.5" cy="392.5" r="2.5" fill="#fff" stroke="#111" stroke-width="0.95"/>
<circle cx="224.5" cy="399.9" r="2.5" fill="#fff" stroke="#111" stroke-width="0.95"/>
<circle cx="255.9" cy="369.7" r="2.5" fill="#fff" stroke="#111" stroke-width="0.95"/>
<circle cx="255.9" cy="382.9" r="2.5" fill="#fff" stroke="#111" stroke-width="0.95"/>
<circle cx="263.2" cy="375.5" r="2.5" fill="#fff" stroke="#111" stroke-width="0.95"/>
<circle cx="286.9" cy="365.9" r="2.5" fill="#fff" stroke="#111" stroke-width="0.95"/>
<circle cx="286.9" cy="379" r="2.5" fill="#fff" stroke="#111" stroke-width="0.95"/>
<circle cx="294.3" cy="374.3" r="2.5" fill="#fff" stroke="#111" stroke-width="0.95"/>
<circle cx="318.1" cy="379" r="2.5" fill="#fff" stroke="#111" stroke-width="0.95"/>
<circle cx="318.1" cy="388.4" r="2.5" fill="#fff" stroke="#111" stroke-width="0.95"/>
<circle cx="325.6" cy="383.1" r="2.5" fill="#fff" stroke="#111" stroke-width="0.95"/>
<circle cx="224.5" cy="380.4" r="2.55" fill="#111"/>
<circle cx="232.3" cy="385.9" r="2.55" fill="#111"/>
<circle cx="224.5" cy="391.2" r="2.55" fill="#111"/>
<circle cx="248.3" cy="359.8" r="2.55" fill="#111"/>
<circle cx="255.9" cy="362.8" r="2.55" fill="#111"/>
<circle cx="263.2" cy="361.4" r="2.55" fill="#111"/>
<circle cx="286.9" cy="350.5" r="2.55" fill="#111"/>
<circle cx="286.9" cy="362.1" r="2.55" fill="#111"/>
<circle cx="294.3" cy="357.5" r="2.55" fill="#111"/>
<circle cx="318.1" cy="344" r="2.55" fill="#111"/>
<circle cx="318.1" cy="352.4" r="2.55" fill="#111"/>
<circle cx="318.1" cy="359.9" r="2.55" fill="#111"/>
<text x="333.7" y="411.6" font-size="9.2" text-anchor="end" font-weight="normal" fill="#151515" >p = 0.01</text>
<circle cx="217.4" cy="334.9" r="2.9" fill="#111"/>
<circle cx="217.4" cy="344.7" r="3.0" fill="#fff" stroke="#111" stroke-width="0.9"/>
<text x="225" y="338.1" font-size="9.2" text-anchor="start" font-weight="normal" fill="#151515" textLength="14.6" lengthAdjust="spacingAndGlyphs">W T</text>
<text x="225" y="347.5" font-size="9.4" text-anchor="start" font-weight="normal" fill="#151515" letter-spacing="0.6">AID-/-</text>
<text x="0" y="0" font-size="13.4" text-anchor="middle" fill="#222" transform="translate(184.8 368.7) rotate(-90)" textLength="78.5" lengthAdjust="spacingAndGlyphs">AnV&#160;&#160;+ve (%)</text>
<path d="M393.4 330.1V413.3H520" stroke="#555" stroke-width="1" fill="none"/>
<path d="M393.4 330.6h-2.8M393.4 347.14h-2.8M393.4 363.68h-2.8M393.4 380.22h-2.8M393.4 396.76h-2.8M393.4 413.3h-2.8M409.7 413.3v2.5M440.7 413.3v2.5M471.9 413.3v2.5M503.1 413.3v2.5" stroke="#555" stroke-width="1" fill="none"/>
<text x="380" y="333.2" font-size="10.6" text-anchor="middle" font-weight="normal" fill="#151515" >100</text>
<text x="380" y="349.74" font-size="10.6" text-anchor="middle" font-weight="normal" fill="#151515" >90</text>
<text x="380" y="366.28" font-size="10.6" text-anchor="middle" font-weight="normal" fill="#151515" >80</text>
<text x="380" y="382.82" font-size="10.6" text-anchor="middle" font-weight="normal" fill="#151515" >70</text>
<text x="380" y="399.36" font-size="10.6" text-anchor="middle" font-weight="normal" fill="#151515" >60</text>
<text x="380" y="415.9" font-size="10.6" text-anchor="middle" font-weight="normal" fill="#151515" >50</text>
<text x="410.7" y="425.8" font-size="10.3" text-anchor="middle" font-weight="normal" fill="#151515" >24</text>
<text x="441.7" y="425.8" font-size="10.3" text-anchor="middle" font-weight="normal" fill="#151515" >48</text>
<text x="472.9" y="425.8" font-size="10.3" text-anchor="middle" font-weight="normal" fill="#151515" >72</text>
<text x="504.1" y="425.8" font-size="10.3" text-anchor="middle" font-weight="normal" fill="#151515" >96</text>
<text x="457" y="448" font-size="13.2" text-anchor="middle" font-weight="normal" fill="#151515" >Time(h)</text>
<polyline points="409.7,386 440.7,362 471.9,342.5 503.1,348.4" fill="none" stroke="#111" stroke-width="1.1"/>
<polyline points="409.7,386.5 440.7,377 471.9,357.8 503.1,392.8" fill="none" stroke="#111" stroke-width="1.1"/>
<circle cx="409" cy="382.1" r="2.5" fill="#fff" stroke="#111" stroke-width="0.95"/>
<circle cx="409" cy="392" r="2.5" fill="#fff" stroke="#111" stroke-width="0.95"/>
<circle cx="416.8" cy="388.3" r="2.5" fill="#fff" stroke="#111" stroke-width="0.95"/>
<circle cx="440.2" cy="372.7" r="2.5" fill="#fff" stroke="#111" stroke-width="0.95"/>
<circle cx="440.2" cy="381.7" r="2.5" fill="#fff" stroke="#111" stroke-width="0.95"/>
<circle cx="447.7" cy="377.4" r="2.5" fill="#fff" stroke="#111" stroke-width="0.95"/>
<circle cx="471.5" cy="352.1" r="2.5" fill="#fff" stroke="#111" stroke-width="0.95"/>
<circle cx="478.6" cy="358.1" r="2.5" fill="#fff" stroke="#111" stroke-width="0.95"/>
<circle cx="471.5" cy="362.4" r="2.5" fill="#fff" stroke="#111" stroke-width="0.95"/>
<circle cx="502.4" cy="384.9" r="2.5" fill="#fff" stroke="#111" stroke-width="0.95"/>
<circle cx="502.4" cy="397.6" r="2.5" fill="#fff" stroke="#111" stroke-width="0.95"/>
<circle cx="509.9" cy="396.5" r="2.5" fill="#fff" stroke="#111" stroke-width="0.95"/>
<circle cx="401.9" cy="384.4" r="2.55" fill="#111"/>
<circle cx="409" cy="385.9" r="2.55" fill="#111"/>
<circle cx="409" cy="394.3" r="2.55" fill="#111"/>
<circle cx="440.2" cy="357.2" r="2.55" fill="#111"/>
<circle cx="447.7" cy="361.5" r="2.55" fill="#111"/>
<circle cx="440.2" cy="367.5" r="2.55" fill="#111"/>
<circle cx="464" cy="340.9" r="2.55" fill="#111"/>
<circle cx="471.5" cy="342.8" r="2.55" fill="#111"/>
<circle cx="478.6" cy="342.8" r="2.55" fill="#111"/>
<circle cx="502.4" cy="341.5" r="2.55" fill="#111"/>
<circle cx="509.9" cy="348.4" r="2.55" fill="#111"/>
<circle cx="502.4" cy="355.3" r="2.55" fill="#111"/>
<text x="518.7" y="411.2" font-size="9.2" text-anchor="end" font-weight="normal" fill="#151515" >p &lt;0.01</text>
<circle cx="403.2" cy="333" r="2.9" fill="#111"/>
<circle cx="403.2" cy="342.8" r="3.0" fill="#fff" stroke="#111" stroke-width="0.9"/>
<text x="410.8" y="336.2" font-size="9.2" text-anchor="start" font-weight="normal" fill="#151515" textLength="14.6" lengthAdjust="spacingAndGlyphs">W T</text>
<text x="410.8" y="345.6" font-size="9.4" text-anchor="start" font-weight="normal" fill="#151515" letter-spacing="0.6">AID-/-</text>
<text x="0" y="0" font-size="13.4" text-anchor="middle" fill="#222" transform="translate(367.3 372) rotate(-90)" textLength="99" lengthAdjust="spacingAndGlyphs">Casp 3&#160;&#160;+ve (%)</text>
</svg>
</body></html>
